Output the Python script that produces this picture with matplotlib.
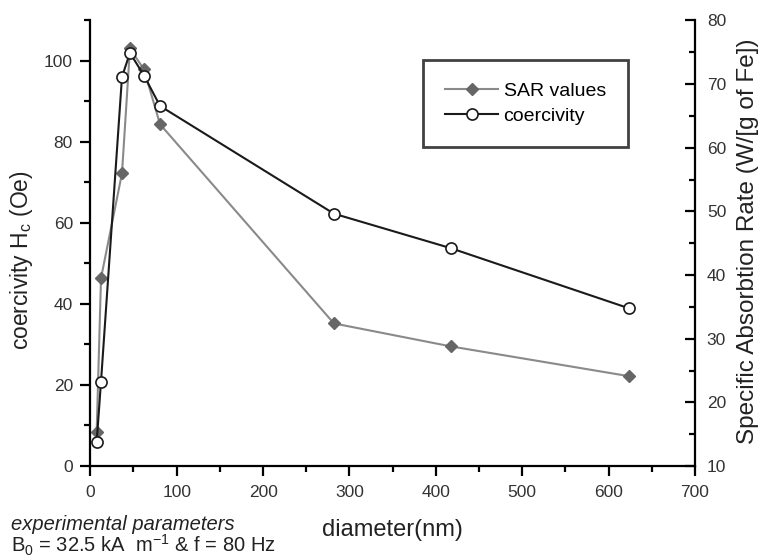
import matplotlib
matplotlib.use("Agg")
import matplotlib.pyplot as plt
from matplotlib.ticker import MultipleLocator

plt.rcParams['font.family'] = ['Liberation Sans', 'DejaVu Sans']
plt.rcParams['mathtext.default'] = 'regular'

# diameters (nm)
diameter = [7.4, 12.4, 36.7, 45.9, 62.2, 80.7, 282, 417, 624]
coercivity = [6.0, 20.8, 96.1, 102.0, 96.4, 88.9, 62.3, 53.8, 38.9]
sar = [15.4, 39.5, 56.0, 75.6, 72.3, 63.7, 32.4, 28.8, 24.1]

fig = plt.figure(figsize=(7.6, 5.6), dpi=100)
ax1 = fig.add_axes([0.1188, 0.1679, 0.7957, 0.7955])
ax2 = ax1.twinx()

# coercivity on the left axis
l1, = ax1.plot(diameter, coercivity, color='#1a1a1a', lw=1.5, marker='o',
               markersize=8, markerfacecolor='white', markeredgecolor='#1a1a1a',
               markeredgewidth=1.2, label='coercivity', zorder=3)
# SAR on the right axis
l2, = ax2.plot(diameter, sar, color='#8a8a8a', lw=1.5, marker='D',
               markersize=6.5, markerfacecolor='#666666', markeredgecolor='#666666',
               label='SAR values')

ax1.set_xlim(0, 700)
ax1.set_ylim(0, 110)
ax2.set_ylim(10, 80)

ax1.xaxis.set_major_locator(MultipleLocator(100))
ax1.xaxis.set_minor_locator(MultipleLocator(50))
ax1.set_yticks([0, 20, 40, 60, 80, 100])
ax1.yaxis.set_minor_locator(MultipleLocator(10))
ax2.yaxis.set_major_locator(MultipleLocator(10))
ax2.yaxis.set_minor_locator(MultipleLocator(5))

for ax in (ax1, ax2):
    ax.spines['top'].set_visible(False)
    for s in ax.spines.values():
        s.set_linewidth(1.6)
ax1.spines['right'].set_visible(False)
ax2.spines['left'].set_visible(False)
ax2.spines['bottom'].set_visible(False)

ax1.tick_params(which='major', direction='out', length=7, width=1.6,
                labelsize=12.5, labelcolor='#333333')
ax1.tick_params(which='minor', direction='out', length=4, width=1.6)
ax1.tick_params(axis='x', which='major', pad=6.5)
ax1.tick_params(axis='y', which='major', pad=5.5)
ax2.tick_params(which='major', direction='in', length=7, width=1.6,
                labelsize=12.5, labelcolor='#333333', pad=8.5)
ax2.tick_params(which='minor', direction='in', length=4, width=1.6)

ax1.set_ylabel('coercivity H$_c$ (Oe)', fontsize=16.5, color='#222222')
ax1.yaxis.set_label_coords(-0.0915, 0.462)
ax2.set_ylabel('Specific Absorbtion Rate (W/[g of Fe])', fontsize=17.5, color='#222222')
ax2.yaxis.set_label_coords(1.069, 0.505)
ax1.set_xlabel('diameter(nm)', fontsize=17, color='#222222')
ax1.xaxis.set_label_coords(0.5, -0.118)

leg = ax1.legend([l2, l1], ['SAR values', 'coercivity'], loc='upper left',
                 bbox_to_anchor=(0.55, 0.911), fontsize=14, fancybox=False,
                 borderpad=1.15, labelspacing=0.35, handlelength=2.7,
                 handletextpad=0.3, borderaxespad=0)
leg.get_frame().set_edgecolor('#111111')
leg.get_frame().set_linewidth(2)
leg.set_zorder(10)
ax1.set_zorder(ax2.get_zorder() + 1)
ax1.patch.set_visible(False)

fig.text(0.014, 0.053, 'experimental parameters', fontsize=14.5, style='italic',
         color='#222222', va='baseline')
fig.text(0.014, 0.014, 'B$_0$ = 32.5 kA  m$^{-1}$ & f = 80 Hz', fontsize=14.5,
         color='#222222', va='baseline')

fig.savefig('out.png', dpi=100)
